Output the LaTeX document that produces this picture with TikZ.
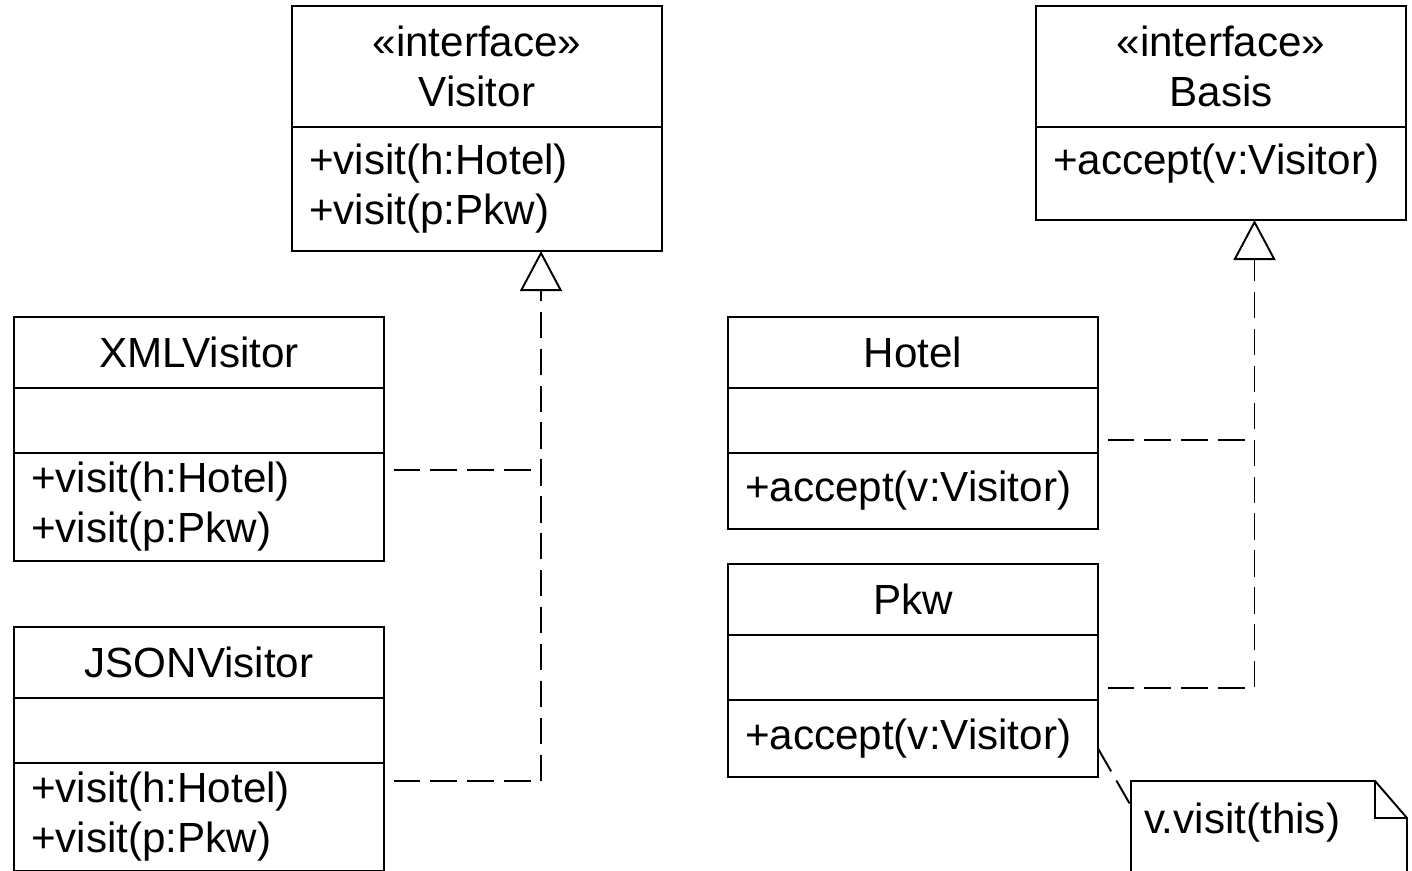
\documentclass[tikz,border=0pt]{standalone}
\usepackage{fontspec}
\setmainfont{Liberation Sans}
\usetikzlibrary{positioning, calc, arrows.meta}
\tikzset{
  > = {Triangle[open, length = 0.8cm, width = 0.84cm]},
  umlline/.style = {line width = 1.1pt},
  compart/.style = {draw, umlline, outer sep = 0pt, inner sep = 0pt,
    minimum width = 7.4cm, font = \fontsize{24}{28.5}\selectfont},
  classhead/.style = {compart, align = center, minimum height = #1},
  classhead/.default = {1.42cm},
  classbody/.style = {compart, text width = 6.72cm, align = left, minimum height = #1},
  realize/.style = {umlline, dash pattern = on 15pt off 6pt, shorten < = 0.19cm},
  notebox/.style = {outer sep = 0pt, inner sep = 0pt, minimum width = 5.52cm,
    minimum height = 1.68cm, text width = 5cm, align = left,
    font = \fontsize{24}{28.5}\selectfont}
}

\begin{document}
\begin{tikzpicture}
\useasboundingbox (0,0) rectangle (28.24,-17.4);

%% Interfaces
\node [classhead = 2.42cm, anchor = north west] (vishead) at (5.84,-0.12) {«interface»\\Visitor};
\node [classbody = 2.48cm] (visops) [below = 0pt of vishead] {+visit(h:Hotel)\\+visit(p:Pkw)};

\node [classhead = 2.42cm] (bashead) [right = 7.48cm of vishead] {«interface»\\Basis};
\node [classbody = 1.86cm, text depth = 0.58cm] (basops) [below = 0pt of bashead] {+accept(v:Visitor)};

%% Visitors
\node [classhead, anchor = north west] (xmlhead) at (0.28,-6.34) {XMLVisitor};
\node [classbody = 1.3cm] (xmlattrs) [below = 0pt of xmlhead] {};
\node [classbody = 2.16cm] (xmlops) [below = 0pt of xmlattrs] {+visit(h:Hotel)\\+visit(p:Pkw)};

\node [classhead] (jsonhead) [below = 1.32cm of xmlops] {JSONVisitor};
\node [classbody = 1.3cm] (jsonattrs) [below = 0pt of jsonhead] {};
\node [classbody = 2.16cm] (jsonops) [below = 0pt of jsonattrs] {+visit(h:Hotel)\\+visit(p:Pkw)};

%% Elements
\node [classhead] (hothead) [right = 6.88cm of xmlhead] {Hotel};
\node [classbody = 1.3cm] (hotattrs) [below = 0pt of hothead] {};
\node [classbody = 1.52cm] (hotops) [below = 0pt of hotattrs] {+accept(v:Visitor)};

\node [classhead] (pkwhead) [below = 0.7cm of hotops] {Pkw};
\node [classbody = 1.3cm] (pkwattrs) [below = 0pt of pkwhead] {};
\node [classbody = 1.54cm] (pkwops) [below = 0pt of pkwattrs] {+accept(v:Visitor)};

%% Note
\node [notebox] (note) [below right = 0.08cm and 0.66cm of pkwops] {v.visit(this)};
\draw [umlline] ([yshift=-0.4cm]note.south west) -- (note.north west)
  -- ([xshift=-0.64cm]note.north east) -- ([yshift=-0.74cm]note.north east)
  -- ([yshift=-0.4cm]note.south east);
\draw [umlline] ([xshift=-0.64cm]note.north east) |- ([yshift=-0.74cm]note.north east);
\draw [realize, shorten < = 0pt] ([yshift=-0.2cm]pkwops.east) -- ([yshift=-0.5cm]note.north west);

%% Realization: Visitor
\coordinate (vtip) at ([xshift=1.28cm]visops.south);
\draw [realize, ->] ([yshift=-0.36cm]jsonops.north east) -| (vtip);
\coordinate (xmlout) at ([yshift=-0.34cm]xmlops.north east);
\draw [realize] (xmlout) -- (xmlout -| vtip);

%% Realization: Basis
\coordinate (btip) at ([xshift=0.67cm]basops.south);
\draw [realize, ->] ([yshift=0.24cm]pkwattrs.south east) -| (btip);
\coordinate (hotout) at ([yshift=0.26cm]hotattrs.south east);
\draw [realize] (hotout) -- (hotout -| btip);

\end{tikzpicture}
\end{document}
